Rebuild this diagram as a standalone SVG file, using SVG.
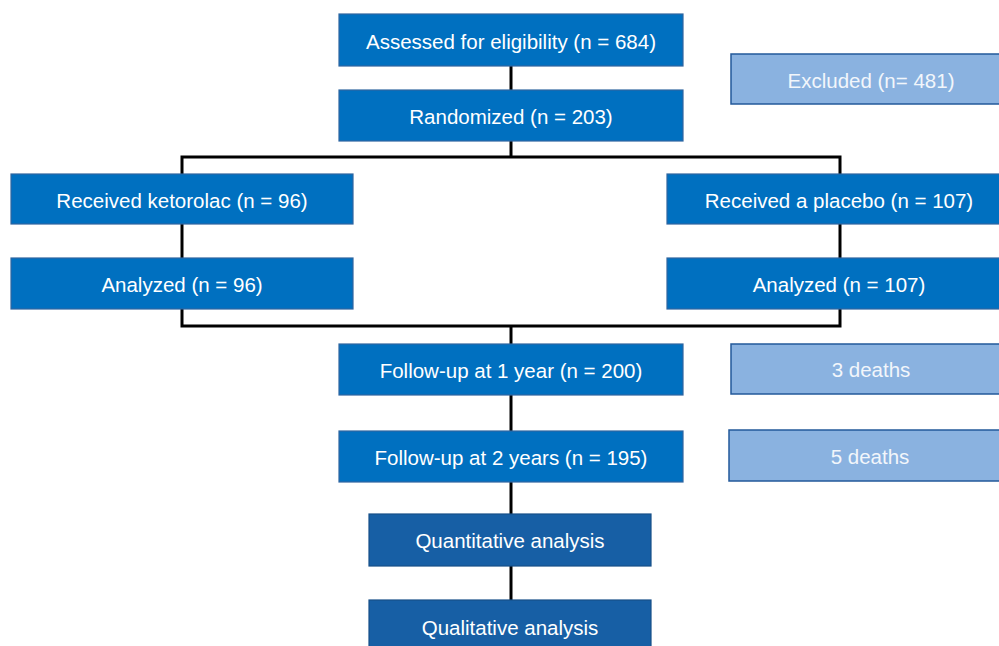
<svg xmlns="http://www.w3.org/2000/svg" width="999" height="646" viewBox="0 0 999 646">
<style>
.main{fill:#0070C0;stroke:#2F65A0;stroke-width:1.2}
.dark{fill:#175FA5;stroke:#174F88;stroke-width:1.2}
.light{fill:#8AB2E0;stroke:#23599A;stroke-width:1.5}
text{font-family:"Liberation Sans","Open Sans",Arial,sans-serif;font-size:20.5px;fill:#FFFFFF;text-anchor:middle;dominant-baseline:central}
.light+text{fill:#F2F6FB}
.conn{fill:none;stroke:#000;stroke-width:3}
</style>
<rect width="999" height="646" fill="#FFFFFF"/>
<g id="connectors" class="conn">
<path d="M511 66V90"/>
<path d="M511 141V157"/>
<path d="M182 174V157H840V174"/>
<path d="M182 224V258"/>
<path d="M840 224V258"/>
<path d="M182 309V326H840V309"/>
<path d="M511 326V344"/>
<path d="M511 395V431"/>
<path d="M511 482V514"/>
<path d="M511 566V600"/>
</g>
<g id="assessed"><rect class="main" x="339" y="14" width="344" height="52"/><text x="511" y="41">Assessed for eligibility (n = 684)</text></g>
<g id="excluded"><rect class="light" x="731" y="54" width="272" height="50"/><text x="871" y="80">Excluded (n= 481)</text></g>
<g id="randomized"><rect class="main" x="339" y="90" width="344" height="51"/><text x="511" y="116">Randomized (n = 203)</text></g>
<g id="ketorolac"><rect class="main" x="11" y="174" width="342" height="50"/><text x="182" y="200">Received ketorolac (n = 96)</text></g>
<g id="placebo"><rect class="main" x="667" y="174" width="336" height="50"/><text x="839" y="200">Received a placebo (n = 107)</text></g>
<g id="analyzed-left"><rect class="main" x="11" y="258" width="342" height="51"/><text x="182" y="284">Analyzed (n = 96)</text></g>
<g id="analyzed-right"><rect class="main" x="667" y="258" width="336" height="51"/><text x="839" y="284">Analyzed (n = 107)</text></g>
<g id="followup1"><rect class="main" x="339" y="344" width="344" height="51"/><text x="511" y="370">Follow-up at 1 year (n = 200)</text></g>
<g id="deaths3"><rect class="light" x="731" y="344" width="272" height="50"/><text x="871" y="369">3 deaths</text></g>
<g id="followup2"><rect class="main" x="339" y="431" width="344" height="51"/><text x="511" y="457">Follow-up at 2 years (n = 195)</text></g>
<g id="deaths5"><rect class="light" x="729" y="430" width="274" height="51"/><text x="870" y="456">5 deaths</text></g>
<g id="quantitative"><rect class="dark" x="369" y="514" width="282" height="52"/><text x="510" y="540">Quantitative analysis</text></g>
<g id="qualitative"><rect class="dark" x="369" y="600" width="282" height="52"/><text x="510" y="627">Qualitative analysis</text></g>
</svg>
